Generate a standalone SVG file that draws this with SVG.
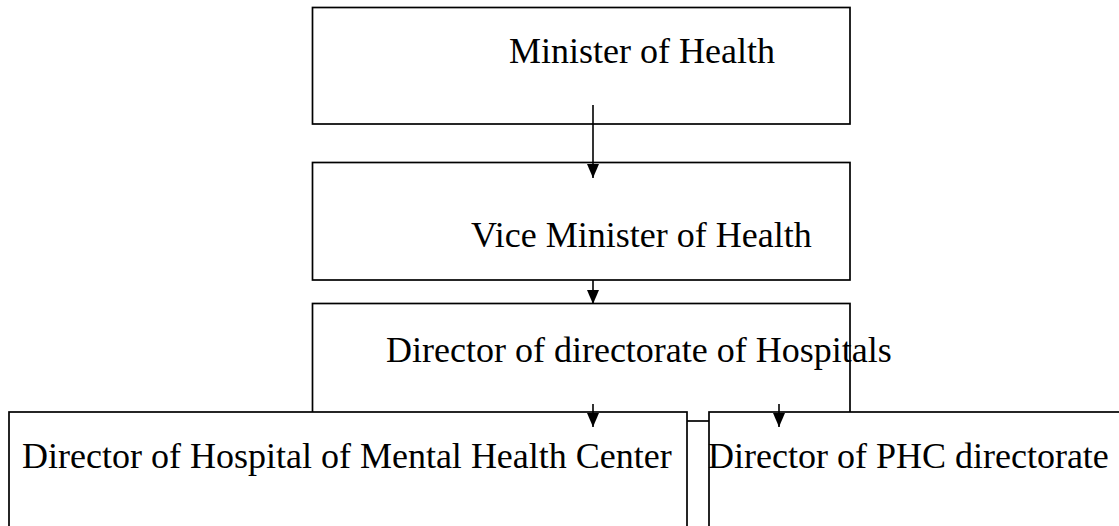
<svg xmlns="http://www.w3.org/2000/svg" width="1119" height="526" viewBox="0 0 1119 526">
<style>
.box{fill:#fff;stroke:#000;stroke-width:1.7}
.lbl{font-family:"Liberation Serif","Times New Roman",serif;font-size:36px;fill:#000}
.conn line{stroke:#000;stroke-width:1.6}
</style>
<defs>
<marker id="ah" viewBox="0 0 14 12" refX="14" refY="6" markerWidth="14" markerHeight="12" markerUnits="userSpaceOnUse" orient="auto">
<path d="M0,0 L14,6 L0,12 Z" fill="#000"/>
</marker>
</defs>
<rect width="1119" height="526" fill="#fff"/>
<g id="minister">
<rect class="box" x="312.5" y="7.5" width="537.5" height="116.5"/>
<text class="lbl" x="509" y="63">Minister of Health</text>
</g>
<g id="vice-minister">
<rect class="box" x="312.5" y="162.5" width="537.5" height="117.5"/>
<text class="lbl" x="471" y="247">Vice Minister of Health</text>
</g>
<g id="director-hospitals">
<rect class="box" x="312.5" y="303.5" width="537.5" height="117.5"/>
<text class="lbl" x="386" y="362">Director of directorate of Hospitals</text>
</g>
<g id="director-mental-health">
<rect class="box" x="9" y="412" width="678" height="130"/>
<text class="lbl" x="22" y="468">Director of Hospital of Mental Health Center</text>
</g>
<g id="director-phc">
<rect class="box" x="709" y="412" width="430" height="130"/>
<text class="lbl" x="708" y="468">Director of PHC directorate</text>
</g>
<g class="conn" id="connectors">
<line x1="593" y1="105" x2="593" y2="178" marker-end="url(#ah)"/>
<line x1="593" y1="280" x2="593" y2="304" marker-end="url(#ah)"/>
<line x1="593" y1="404" x2="593" y2="427" marker-end="url(#ah)"/>
<line x1="779" y1="404" x2="779" y2="427" marker-end="url(#ah)"/>
</g>
</svg>
